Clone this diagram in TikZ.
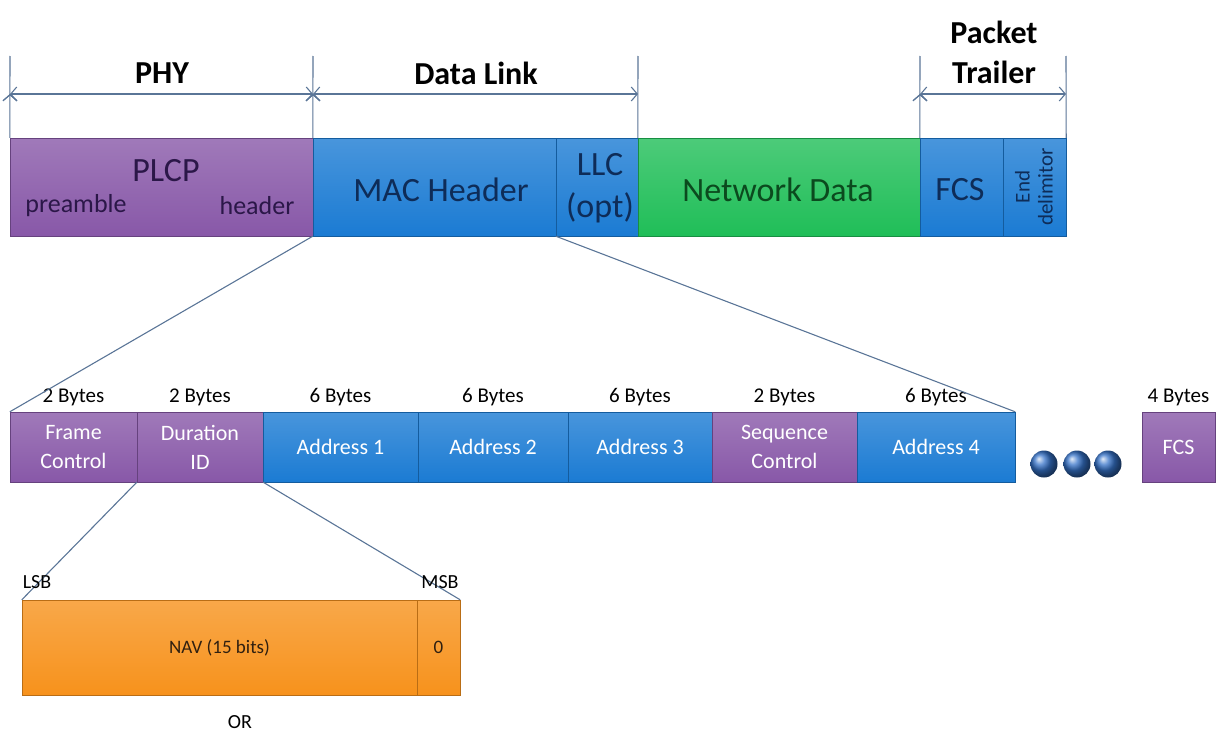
\documentclass[tikz,border=0pt]{standalone}
\usepackage{fontspec}
\setmainfont{Carlito}
\usetikzlibrary{arrows.meta}

\definecolor{fieldpurple}{HTML}{8858A8}
\definecolor{fieldblue}{HTML}{1B7BD3}
\definecolor{fieldgreen}{HTML}{20BE58}
\definecolor{fieldorange}{HTML}{F7921C}
\definecolor{guide}{HTML}{5A7597}
\definecolor{darkpurple}{HTML}{2B1748}
\definecolor{darknavy}{HTML}{0E2C58}
\definecolor{darkgreen}{HTML}{0B4A1E}
\definecolor{dotblue}{HTML}{3572C8}

\begin{document}
\begin{tikzpicture}[x=1pt,y=-1pt,
  box/.style={draw=#1!75!black, top color=#1!80!white, bottom color=#1, inner sep=0pt, align=center},
  big/.style={font=\fontsize{34}{42}\selectfont},
  small/.style={font=\fontsize{22}{29}\selectfont, text=white},
  head/.style={font=\fontsize{32}{40}\selectfont\bfseries},
  dot/.style={circle, shading=ball, ball color=dotblue, minimum size=27pt, inner sep=0pt},
  guide line/.style={draw=guide, line width=1.1pt},
  every label/.style={font=\fontsize{21}{24}\selectfont},
  label distance=2pt,
  >={Straight Barb[length=6pt,width=14pt]}]

\useasboundingbox (0,0) rectangle (1219,736);

% top frame
\node[box=fieldpurple, minimum width=303pt, minimum height=98pt] (plcp) at (161.5,187) {};
\node[box=fieldblue, minimum width=243pt, minimum height=98pt] (mac) at (434.5,187) {};
\node[box=fieldblue, minimum width=82pt, minimum height=98pt] (llc) at (597,187) {};
\node[box=fieldgreen, minimum width=282pt, minimum height=98pt] (net) at (779,187) {};
\node[box=fieldblue, minimum width=83pt, minimum height=98pt] (fcs) at (961.5,187) {};
\node[box=fieldblue, minimum width=63pt, minimum height=98pt] (enddel) at (1034.5,187) {};

\node[big, text=darkpurple] (plcplbl) at (166,171) {PLCP};
\node[font=\fontsize{26}{30}\selectfont, text=darkpurple] (prelbl) at (76,206) {preamble};
\node[font=\fontsize{26}{30}\selectfont, text=darkpurple] (hdrlbl) at (257,206) {header};
\node[big, text=darknavy] (maclbl) at (441,190) {MAC Header};
\node[big, text=darknavy, align=center] (llclbl) at (600,188) {LLC\\(opt)};
\node[big, text=darkgreen] (netlbl) at (778,190) {Network Data};
\node[big, text=darknavy] (fcslbl) at (960,190) {FCS};
\node[font=\fontsize{21}{23}\selectfont, text=darknavy, align=center, rotate=90] (endlbl) at (1034,187) {End\\delimitor};

% brackets
\coordinate (t0) at (10,56);
\coordinate (t1) at (313,56);
\coordinate (t2) at (638,56);
\coordinate (t3) at (920,56);
\coordinate (t4) at (1066,56);
\coordinate (a0) at (10,94);
\coordinate (a1) at (313,94);
\coordinate (a2) at (638,94);
\coordinate (a3) at (920,94);
\coordinate (a4) at (1066,94);

\path[guide line] (plcp.north west) edge (t0);
\path[guide line] (mac.north west) edge (t1);
\path[guide line] (net.north west) edge (t2);
\path[guide line] (fcs.north west) edge (t3);
\path[guide line] (enddel.north east) edge (t4);

\path[guide line, <->] (a0) edge (a1);
\path[guide line, <->] (a1) edge (a2);
\path[guide line, <->] (a3) edge (a4);

\node[head] (phy) at (162,73) {PHY};
\node[head] (dlink) at (476,73) {Data Link};
\node[head, align=center] (trailer) at (994,52) {Packet\\Trailer};

% MAC header fields
\node[box=fieldpurple, small, minimum width=127pt, minimum height=70pt, label=above:2 Bytes] (fc) at (73.5,447) {Frame\\Control};
\node[box=fieldpurple, small, minimum width=126pt, minimum height=70pt, label=above:2 Bytes] (dur) at (200,447) {Duration\\ID};
\node[box=fieldblue, small, minimum width=155pt, minimum height=70pt, label=above:6 Bytes] (addr1) at (340.5,447) {Address 1};
\node[box=fieldblue, small, minimum width=150pt, minimum height=70pt, label=above:6 Bytes] (addr2) at (493,447) {Address 2};
\node[box=fieldblue, small, minimum width=144pt, minimum height=70pt, label=above:6 Bytes] (addr3) at (640,447) {Address 3};
\node[box=fieldpurple, small, minimum width=145pt, minimum height=70pt, label=above:2 Bytes] (seq) at (784.5,447) {Sequence\\Control};
\node[box=fieldblue, small, minimum width=158pt, minimum height=70pt, label=above:6 Bytes] (addr4) at (936,447) {Address 4};
\node[box=fieldpurple, small, minimum width=73pt, minimum height=70pt, label=above:4 Bytes] (fcs2) at (1178.5,447) {FCS};

\node[dot] (dot1) at (1044,464) {};
\node[dot] (dot2) at (1077,464) {};
\node[dot] (dot3) at (1108,464) {};

\path[guide line] (mac.south west) edge (fc.north west);
\path[guide line] (llc.south west) edge (addr4.north east);

% duration field
\node[box=fieldorange, minimum width=395pt, minimum height=95pt, font=\fontsize{19}{22}\selectfont, text=black!75!brown] (nav) at (219.5,647.5) {NAV (15 bits)};
\node[box=fieldorange, minimum width=43pt, minimum height=95pt, font=\fontsize{19}{22}\selectfont, text=black!75!brown] (zero) at (438.5,647.5) {0};

\path[guide line] (dur.south west) edge (nav.north west);
\path[guide line] (dur.south east) edge (zero.north east);

\node[font=\fontsize{20}{24}\selectfont] (lsb) at (37,582) {LSB};
\node[font=\fontsize{20}{24}\selectfont] (msb) at (440,582) {MSB};
\node[font=\fontsize{20}{24}\selectfont] (orlbl) at (240,722) {OR};

\end{tikzpicture}
\end{document}
